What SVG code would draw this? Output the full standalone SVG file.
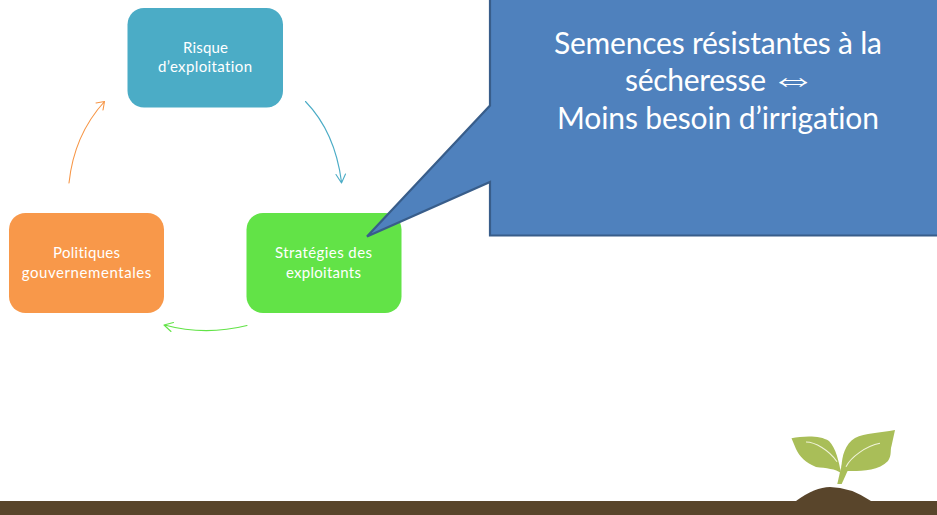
<svg xmlns="http://www.w3.org/2000/svg" width="937" height="515" viewBox="0 0 937 515">
<style>
text{font-family:Lato,"Open Sans",sans-serif;text-anchor:middle;fill:#fff;font-variant-ligatures:none}
.n{font-size:15px}
.c{font-size:30px}
.s{font-family:"DejaVu Sans",sans-serif;font-size:36px;font-weight:200}
.a{fill:none;stroke-width:1.1;stroke-linecap:round;stroke-linejoin:round}
</style>
<rect width="937" height="515" fill="#fff"/>
<g id="connectors">
<path class="a" stroke="#4BACC6" d="M305.500 101.500Q335 132 341.500 182M336 174.500L341.500 183L345.500 174"/>
<path class="a" stroke="#62E347" d="M247 325.500Q205 336 164.500 325M173.500 322.500L164 325L171 331.500"/>
<path class="a" stroke="#F79646" d="M69 183Q74 135 104.500 101.500M96 103L104.500 101.500L103 110"/>
</g>
<g id="node-risque">
<rect x="127.500" y="8" width="155.500" height="99.500" rx="16.500" fill="#4BACC6"/>
<text class="n" x="205.500" y="53" textLength="45">Risque</text>
<text class="n" x="205" y="72" textLength="94">d’exploitation</text>
</g>
<g id="node-strategies">
<rect x="246.500" y="213" width="155" height="100" rx="16.500" fill="#62E347"/>
<text class="n" x="323.500" y="258" textLength="97">Stratégies des</text>
<text class="n" x="323.500" y="278" textLength="75">exploitants</text>
</g>
<g id="node-politiques">
<rect x="9" y="213" width="155" height="100" rx="16.500" fill="#F8984A"/>
<text class="n" x="86.500" y="258" textLength="67">Politiques</text>
<text class="n" x="86.500" y="278" textLength="129.500">gouvernementales</text>
</g>
<g id="node-callout">
<path d="M490 -3H940V235.500H490V182L367 236.500L490 105.500Z" fill="#4F81BD" stroke="#385D8A" stroke-width="2.200" stroke-linejoin="miter"/>
<text class="c" x="718" y="53.500" textLength="328">Semences résistantes à la</text>
<text class="c" x="695.500" y="91" textLength="141">sécheresse</text>
<text class="s" transform="translate(793.500 91) scale(1.3 1)">⇔</text>
<text class="c" x="718" y="129" textLength="322">Moins besoin d’irrigation</text>
</g>
<g id="ground">
<rect y="501" width="937" height="14" fill="#59452B"/>
<path d="M796 501Q815 487 830 487Q850 487 871 501Z" fill="#59452B"/>
</g>
<g id="plant">
<path d="M791.500 438.300C803 436 820 435 829 441C836 448 839 462 841 473C836 469 826 468 816 467C806 463 799 456 796 449Z" fill="#A9BE58"/>
<path d="M895 430C880 433 865 433 855 438C845 444 842 456 841.500 467L847 471C857 471 878 472 888 461C892 455 890 450 891.500 446Z" fill="#A9BE58"/>
<path d="M840 472L842 464L848 470L841.700 484L837.300 484Z" fill="#A9BE58"/>
<path d="M806 442C815 442 829 450 837 461.700M846 466.700C851 457 866 446 880 443.300" fill="none" stroke="#F0F3D8" stroke-width="1.100"/>
</g>
</svg>
